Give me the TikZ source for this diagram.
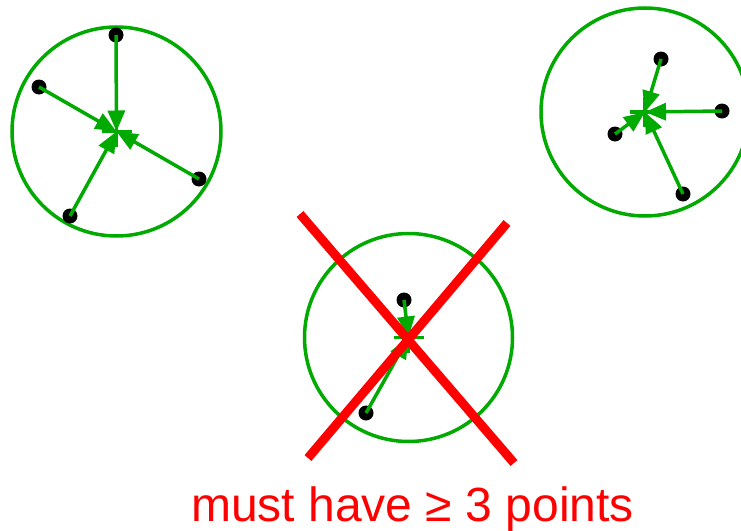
\documentclass[tikz,border=0pt]{standalone}
\usepackage{fontspec}
\setmainfont{Liberation Sans}
\usepackage{tikz}
\usetikzlibrary{
    arrows.meta
}
\definecolor{fitgreen}{RGB}{0,170,0}
\definecolor{crossred}{RGB}{255,0,0}
\tikzstyle{ring} = [
    draw=fitgreen,
    line width=3.5pt
]
\tikzstyle{pt} = [
    circle,
    fill=black,
    inner sep=0pt,
    minimum size=15pt
]
\tikzstyle{arrow} = [
    -{Triangle[length=21pt,width=17pt]},
    line width=3.5pt,
    draw=fitgreen,
    fill=fitgreen
]
\tikzstyle{centremark} = [
    draw=fitgreen,
    line width=3.5pt
]
\tikzstyle{veto} = [
    draw=crossred,
    line width=9pt
]

\begin{document}
\begin{tikzpicture}[x=1pt, y=-1pt]
    \clip (0,0) rectangle (741,530);

    % left fit: four points
    \coordinate (c1) at (116.5,131.5);
    \draw[ring] (c1) circle[radius=104.5pt];
    \node[pt] (a1) at (116,35) {};
    \node[pt] (a2) at (39,87) {};
    \node[pt] (a3) at (199,179) {};
    \node[pt] (a4) at (70,216) {};
    \draw[centremark] (c1) +(-15,0) -- +(15,0) (c1) +(0,-15) -- +(0,15);
    \foreach \p in {a1,a2,a3,a4}
        \draw[arrow] (\p.center) -- (c1);

    % right fit: four points
    \coordinate (c2) at (645,112);
    \draw[ring] (c2) circle[radius=104pt];
    \node[pt] (b1) at (661,59) {};
    \node[pt] (b2) at (722,111) {};
    \node[pt] (b3) at (615,134) {};
    \node[pt] (b4) at (683,194) {};
    \draw[centremark] (c2) +(-15,0) -- +(15,0) (c2) +(0,-15) -- +(0,15);
    \foreach \p in {b1,b2,b3,b4}
        \draw[arrow] (\p.center) -- (c2);

    % middle fit: only two points
    \coordinate (c3) at (408.5,337.5);
    \draw[ring] (c3) circle[radius=104pt];
    \node[pt] (d1) at (404,300) {};
    \node[pt] (d2) at (366,413) {};
    \draw[centremark] (c3) +(-15,0) -- +(15,0) (c3) +(0,-15) -- +(0,15);
    \foreach \p in {d1,d2}
        \draw[arrow] (\p.center) -- (c3);

    % crossed out
    \coordinate (x1) at (300,214);
    \coordinate (x2) at (514,463);
    \coordinate (x3) at (507,223);
    \coordinate (x4) at (308,458);
    \draw[veto] (x1) -- (x2);
    \draw[veto] (x3) -- (x4);

    % caption
    \node[anchor=base, text=crossred, inner sep=0pt] (note) at (412.5,521)
        {\fontsize{48}{58}\selectfont must have ≥ 3 points};
\end{tikzpicture}
\end{document}
